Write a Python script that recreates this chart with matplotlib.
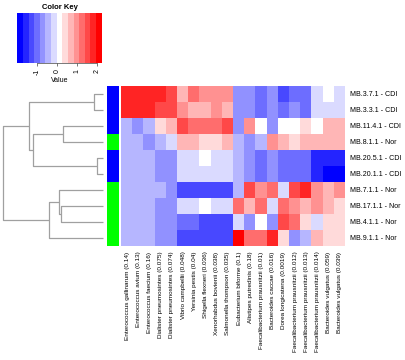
import numpy as np
import matplotlib
matplotlib.use("Agg")
import matplotlib.pyplot as plt
from matplotlib.colors import ListedColormap, BoundaryNorm

plt.rcParams['font.family'] = ['Liberation Sans', 'DejaVu Sans']

# rows (samples) in dendrogram order, top to bottom
samples = ["MB.3.7.1 - CDI", "MB.3.3.1 - CDI", "MB.11.4.1 - CDI", "MB.8.1.1 - Nor",
           "MB.20.5.1 - CDI", "MB.20.1.1 - CDI", "MB.7.1.1 - Nor", "MB.17.1.1 - Nor",
           "MB.4.1.1 - Nor", "MB.9.1.1 - Nor"]
groups = ["CDI", "CDI", "CDI", "Nor", "CDI", "CDI", "Nor", "Nor", "Nor", "Nor"]

# columns (species)
species = ["Enterococcus gallinarum (0.14)", "Enterococcus avium (0.13)",
           "Enterococcus faecium (0.16)", "Dialister pneumosintes (0.075)",
           "Dialister pneumosintes (0.074)", "Vibrio campbellii (0.048)",
           "Yersinia pestis (0.04)", "Shigella flexneri (0.036)",
           "Xenorhabdus bovienii (0.038)", "Salmonella thompson (0.035)",
           "Eubacterium biforme (0.1)", "Alistipes putredinis (0.18)",
           "Faecalibacterium prausnitzii (0.01)", "Bacteroides caccae (0.016)",
           "Dorea longicatena (0.0019)", "Faecalibacterium prausnitzii (0.012)",
           "Faecalibacterium prausnitzii (0.013)", "Faecalibacterium prausnitzii (0.014)",
           "Bacteroides vulgatus (0.059)", "Bacteroides vulgatus (0.039)"]

# scaled abundance values (estimated from the colours)
values = np.array([
    [1.8, 1.8, 1.8, 1.8, 1.55, 0.7, 1.25, 1.0, 1.0, 1.0, -0.7, -0.7, -1.0, -0.7, -1.3, -1.0, -1.0, -0.15, 0.1, -0.15],
    [1.8, 1.8, 1.8, 1.55, 1.55, 1.0, 0.7, 0.7, 1.0, 0.7, -0.7, -0.7, -1.0, -0.7, -1.0, -0.7, -1.0, -0.15, -0.15, -0.15],
    [-0.45, -0.7, -0.45, 0.4, 0.7, 1.55, 1.25, 1.25, 1.25, 1.55, -0.7, 1.0, 0.1, -0.7, 0.1, 0.1, 0.4, 0.1, 0.7, 0.7],
    [-0.45, -0.45, -0.7, -0.45, -0.15, 0.7, 0.7, 0.4, 0.4, 0.7, -0.45, -0.7, -0.45, 1.0, 0.7, 0.4, 0.7, 0.7, 0.7, 0.7],
    [-0.45, -0.45, -0.45, -0.7, -0.7, -0.15, -0.15, 0.1, -0.15, -0.15, -0.45, -0.7, -1.0, -0.7, -1.0, -1.0, -1.0, -1.6, -1.6, -1.6],
    [-0.45, -0.45, -0.45, -0.7, -0.7, -0.15, -0.15, -0.15, -0.15, -0.15, -0.45, -0.7, -1.0, -0.7, -1.0, -1.0, -1.0, -1.6, -1.85, -1.85],
    [-0.45, -0.45, -0.45, -0.45, -0.7, -1.3, -1.3, -1.3, -1.3, -1.3, -0.45, 1.55, 1.0, 1.25, -0.15, 1.55, 1.8, 1.0, 0.7, 1.0],
    [-0.45, -0.45, -0.45, -0.7, -0.7, -0.15, -0.15, 0.1, -0.15, -0.15, 1.25, 0.7, 1.25, -0.15, 1.25, 1.0, 0.7, 1.0, 0.7, 0.4],
    [-0.45, -0.45, -0.45, -0.7, -0.7, -1.0, -1.0, -1.3, -1.3, -1.3, -0.15, -0.7, 0.1, -0.7, 1.55, 1.25, 0.4, -0.15, 0.4, 0.4],
    [-0.45, -0.45, -0.45, -0.7, -0.7, -1.3, -1.3, -1.3, -1.3, -1.3, 2.1, 1.25, 1.25, 1.8, 0.4, -0.7, -0.45, 0.7, 0.4, 0.4],
])

# row dendrogram: (left, right, height); leaves 0..9, merge i makes cluster 10+i
merges = [(0, 1, 0.085), (4, 5, 0.06), (2, 3, 0.40), (12, 11, 0.70), (10, 13, 0.74),
          (7, 8, 0.42), (6, 15, 0.44), (16, 9, 0.54), (14, 17, 1.0)]

key_lo, key_hi = -2.0, 2.25
group_colors = {"CDI": "#0000FF", "Nor": "#00FF00"}

# blue-white-red palette, 15 steps
n = 15
half = n // 2
cols = [(i / half, i / half, 1.0) for i in range(half)] + [(1, 1, 1)] + \
       [(1, 1 - i / half, 1 - i / half) for i in range(1, half + 1)]
cmap = ListedColormap(cols)
breaks = np.linspace(key_lo, key_hi, n + 1)
norm = BoundaryNorm(breaks, n)

W, H = 406, 360
fig = plt.figure(figsize=(W / 100, H / 100), dpi=100)


def px_axes(x0, y0, x1, y1):
    return fig.add_axes([x0 / W, 1 - y1 / H, (x1 - x0) / W, (y1 - y0) / H])


nr, nc = values.shape

# heatmap
ax = px_axes(121.5, 86, 345.5, 246)
ax.imshow(values, cmap=cmap, norm=norm, aspect='auto', interpolation='nearest')
ax.set_xticks(range(nc))
ax.set_xticklabels(species, rotation=90, fontsize=4.6)
ax.yaxis.tick_right()
ax.set_yticks(range(nr))
ax.set_yticklabels(samples, fontsize=5.1)
ax.tick_params(length=0)
ax.tick_params(axis='x', pad=4)
ax.tick_params(axis='y', pad=3.5)
for s in ax.spines.values():
    s.set_visible(False)

# side colours
axs = px_axes(106.7, 86, 119, 246)
for i, g in enumerate(groups):
    axs.axhspan(i - 0.5, i + 0.5, color=group_colors[g], lw=0)
axs.set_ylim(nr - 0.5, -0.5)
axs.set_xlim(0, 1)
axs.axis('off')

# dendrogram
axd = px_axes(0, 86, 105, 246)
pos = {i: float(i) for i in range(nr)}
hgt = {i: 0.0 for i in range(nr)}
for k, (a, b, h) in enumerate(merges):
    axd.plot([hgt[a], h, h, hgt[b]], [pos[a], pos[a], pos[b], pos[b]],
             color='#a0a0a0', lw=0.9, solid_capstyle='butt')
    pos[nr + k] = (pos[a] + pos[b]) / 2
    hgt[nr + k] = h
axd.set_xlim(1.033, -0.024)
axd.set_ylim(nr - 0.5, -0.5)
axd.axis('off')

# colour key
axk = px_axes(17.3, 12.7, 101.7, 63.3)
axk.pcolormesh(breaks, [0, 1], ((breaks[:-1] + breaks[1:]) / 2)[None, :], cmap=cmap, norm=norm)
axk.set_xlim(key_lo, key_hi)
axk.set_ylim(0, 1)
axk.set_yticks([])
axk.set_xticks([-1, 0, 1, 2])
axk.set_xticklabels(['-1', '0', '1', '2'], rotation=90, fontsize=5)
axk.tick_params(axis='x', length=2.5, width=0.5, pad=1.5, color='#444444')
axk.set_xlabel('Value', fontsize=5, labelpad=1.5)
axk.set_title('Color Key', fontsize=5.5, fontweight='bold', pad=2.5)
for name, s in axk.spines.items():
    s.set_visible(name == 'bottom')
axk.spines['bottom'].set_bounds(-1, 2)
axk.spines['bottom'].set_linewidth(0.5)
axk.spines['bottom'].set_color('#444444')

fig.savefig('out.png', dpi=100)
